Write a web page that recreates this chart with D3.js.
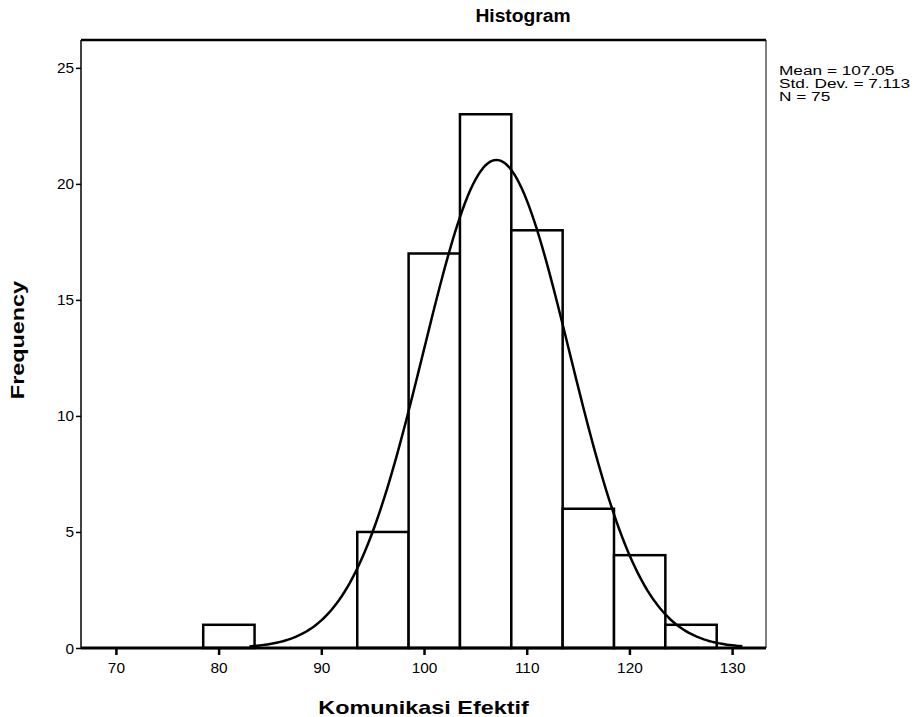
<!DOCTYPE html>
<html>
<head>
<meta charset="utf-8">
<script src="https://cdn.jsdelivr.net/npm/d3@7"></script>
<style>
  body { margin: 0; background: #fff; }
  svg text { font-family: "Liberation Sans", Arial, sans-serif; fill: #000; }
</style>
</head>
<body>
<div class="container"></div>
<script>
// bins of Komunikasi Efektif (width 5)
let binStarts = [78.5, 83.5, 88.5, 93.5, 98.5, 103.5, 108.5, 113.5, 118.5, 123.5];
let binCounts = [1, 0, 0, 5, 17, 23, 18, 6, 4, 1];
let xTicks = [70, 80, 90, 100, 110, 120, 130];
let yTicks = [0, 5, 10, 15, 20, 25];
let stats = ["Mean = 107.05", "Std. Dev. = 7.113", "N = 75"];
let mean = 107.05, sd = 7.113, n = 75, binWidth = 5;

let margin = {top: 40, right: 154, bottom: 69, left: 81},
  width = 920 - margin.left - margin.right,
  height = 717 - margin.top - margin.bottom;

let svg = d3.select(".container").append("svg")
    .attr("width", 920)
    .attr("height", 717)
  .append("g")
    .attr("transform", "translate(" + margin.left + "," + margin.top + ")");

let x = d3.scaleLinear().domain([66.6, 133.3]).range([0, width]);
let y = d3.scaleLinear().domain([0, 26.2]).range([height, 0]);

// stretched text like the SPSS output
let label = (g, txt, tx, ty, size, sx, rot) => g.append("text")
    .text(txt)
    .attr("transform", "translate(" + tx + "," + ty + ")" + (rot ? " rotate(" + rot + ")" : "") + " scale(" + sx + ",1)")
    .attr("text-anchor", "middle")
    .style("font-size", size + "px");

// frame
svg.append("line").attr("x1", 0).attr("x2", 0).attr("y1", 0).attr("y2", height)
  .style("stroke", "#000").style("stroke-width", 1.5);
svg.append("line").attr("x1", width).attr("x2", width).attr("y1", 0).attr("y2", height)
  .style("stroke", "#555").style("stroke-width", 1.5);
svg.append("line").attr("x1", 0).attr("x2", width).attr("y1", 0).attr("y2", 0)
  .style("stroke", "#000").style("stroke-width", 2.5);

// bars
svg.append("g").selectAll("rect")
  .data(binStarts.map((s, i) => ({s: s, c: binCounts[i]})).filter(d => d.c > 0))
  .enter().append("rect")
    .attr("x", d => x(d.s))
    .attr("y", d => y(d.c))
    .attr("width", d => x(d.s + binWidth) - x(d.s))
    .attr("height", d => y(0) - y(d.c))
    .style("fill", "#fff")
    .style("stroke", "#000")
    .style("stroke-width", 2.5);

// baseline
svg.append("line").attr("x1", 0).attr("x2", width).attr("y1", height).attr("y2", height)
  .style("stroke", "#000").style("stroke-width", 3);

// normal curve
let curveX = d3.range(83, 131.01, 0.25);
let normal = v => n * binWidth / (sd * Math.sqrt(2 * Math.PI)) * Math.exp(-0.5 * Math.pow((v - mean) / sd, 2));
svg.append("path")
  .datum(curveX)
  .attr("d", d3.line().x(d => x(d)).y(d => y(normal(d))))
  .style("fill", "none")
  .style("stroke", "#000")
  .style("stroke-width", 2.5);

// y axis
let yAxis = svg.append("g")
  .call(d3.axisLeft(y).tickValues(yTicks).tickSize(5).tickFormat(""));
yAxis.select(".domain").remove();
yAxis.selectAll(".tick line").style("stroke-width", 1.5);
yAxis.selectAll(".tick").each(function(d) {
  label(d3.select(this), d, -7, 5, 14, 1.1).attr("text-anchor", "end");
});

// x axis
let xAxis = svg.append("g")
  .attr("transform", "translate(0," + height + ")")
  .call(d3.axisBottom(x).tickValues(xTicks).tickSize(7).tickFormat(""));
xAxis.select(".domain").remove();
xAxis.selectAll(".tick line").style("stroke-width", 2.5);
xAxis.selectAll(".tick").each(function(d) {
  label(d3.select(this), d, 0, 25, 14, 1.1);
});

// titles
label(svg, "Histogram", 442, -18, 18, 1.07).style("font-weight", "bold");
label(svg, "Komunikasi Efektif", width / 2, height + 66, 18, 1.3).style("font-weight", "bold");
label(svg, "Frequency", -57, 300, 18, 1.3, -90).style("font-weight", "bold");

// stats legend
svg.append("g").selectAll("text")
  .data(stats)
  .enter().append("text")
    .text(d => d)
    .attr("transform", (d, i) => "translate(" + (width + 13) + "," + (35 + i * 13) + ") scale(1.38,1)")
    .style("font-size", "12.5px");
</script>
</body>
</html>
